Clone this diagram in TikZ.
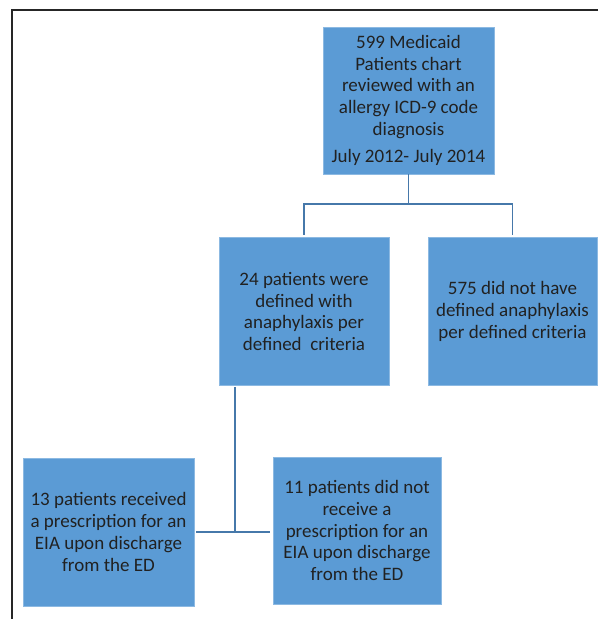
\documentclass[tikz,border=0pt]{standalone}
\usepackage{fontspec}
\setmainfont{Carlito}
\usetikzlibrary{positioning}
\definecolor{boxblue}{RGB}{91,155,213}
\definecolor{edgeblue}{RGB}{140,185,226}
\definecolor{linkblue}{RGB}{70,120,170}
\definecolor{inktext}{RGB}{33,33,33}
\tikzset{
  stepbox/.style = {shape=rectangle, draw=edgeblue, line width=0.6pt,
                    fill=boxblue, align=center, text=inktext,
                    inner sep=2pt,
                    font=\fontsize{19}{21.7}\selectfont},
  rootbox/.style = {stepbox, minimum width=171pt, minimum height=147pt},
  leafbox/.style = {stepbox, minimum width=170pt, minimum height=148pt},
  link/.style    = {draw=linkblue, line width=1.6pt}
}
\begin{document}
\begin{tikzpicture}[x=1pt, y=-1pt]
  \useasboundingbox (0,0) rectangle (598,619);
  % frame
  \draw[line width=1.3pt, black!85] (598,10) -- (12,10) -- (12,619);

  \node[rootbox] (root) at (408.5,100.5)
    {599 Medicaid\\ Patients chart\\ reviewed with an\\ allergy ICD-9 code\\ diagnosis\\[6pt] July 2012- July 2014};
  \node[leafbox] (def) at (304,311.5)
    {24 patients were\\ defined with\\ anaphylaxis per\\ defined\ \ criteria};
  \node[leafbox, minimum width=169pt] (nodef) at (512.5,311.5)
    {575 did not have\\ defined anaphylaxis\\ per defined criteria};
  \node[leafbox, minimum width=171pt] (rx) at (108.5,532)
    {13 patients received\\ a prescription for an\\ EIA upon discharge\\ from the ED};
  \node[leafbox, minimum width=168pt, minimum height=147pt] (norx) at (357,530.5)
    {11 patients did not\\ receive a\\ prescription for an\\ EIA upon discharge\\ from the ED};

  % connectors
  \coordinate (fork) at (408.5,204);
  \coordinate (join) at (235,532);
  \draw[link] (root.south) -- (fork);
  \draw[link, shorten >=2pt] (fork) -| (def.north);
  \draw[link, shorten >=2pt] (fork) -| (nodef.north);
  \draw[link, shorten <=1pt] (def.south -| join) -- (join);
  \draw[link, shorten <=2pt, shorten >=3pt] (rx.east) -- (rx.east -| norx.west);
\end{tikzpicture}
\end{document}
